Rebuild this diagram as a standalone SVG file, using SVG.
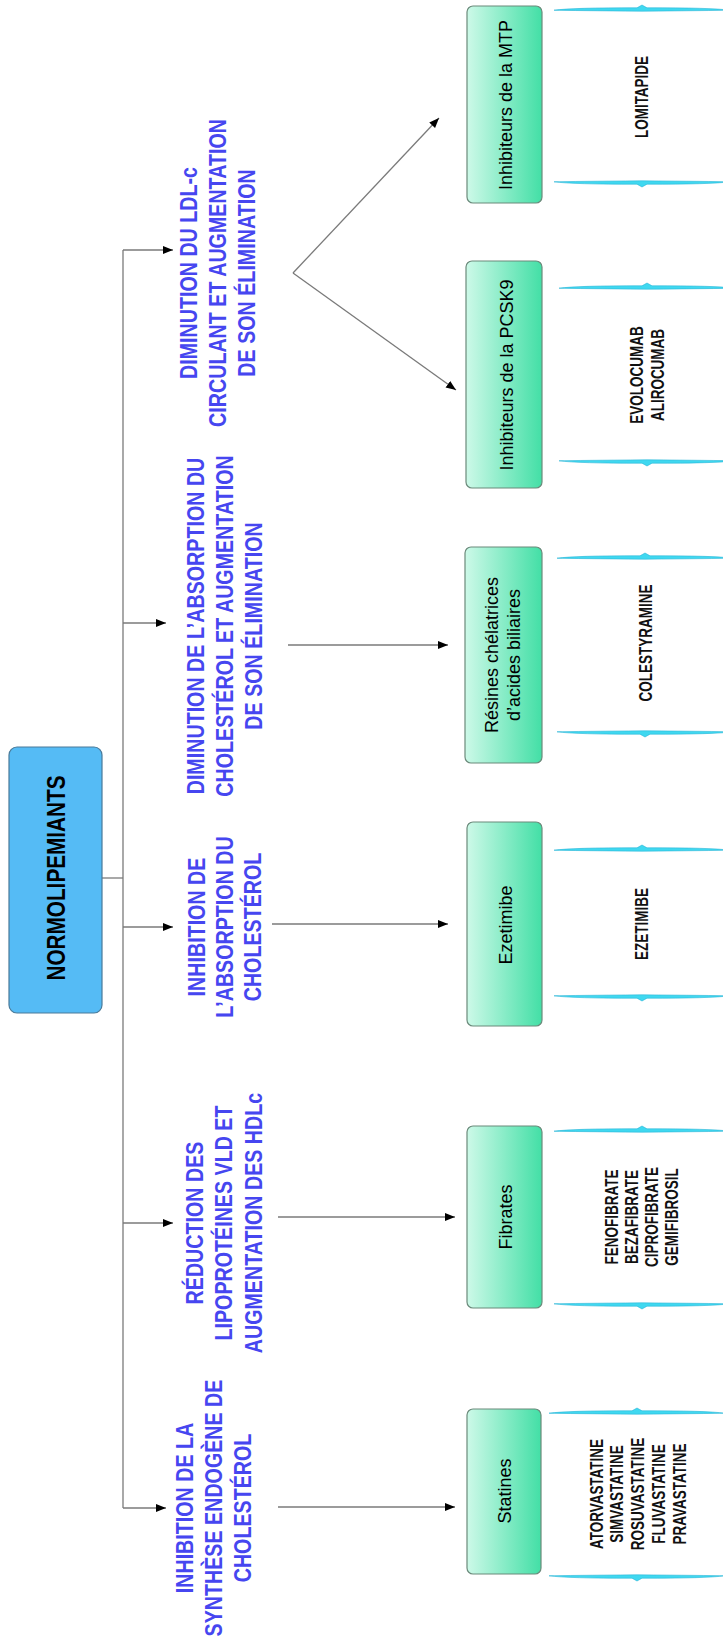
<svg xmlns="http://www.w3.org/2000/svg" width="723" height="1640" viewBox="0 0 723 1640">
<defs>
<linearGradient id="g" x1="0" y1="0" x2="1" y2="0">
<stop offset="0" stop-color="#cdf9e8"/>
<stop offset="1" stop-color="#43dfa6"/>
</linearGradient>
<marker id="ah" viewBox="0 0 10 10" refX="10" refY="5" markerWidth="10" markerHeight="10" markerUnits="userSpaceOnUse" orient="auto">
<path d="M0,1 L10,5 L0,9 Z" fill="#000"/>
</marker>
<path id="btop" d="M0,1.2 Q20,-1.4 83,-1.2 L88,-4 L93,-1.2 Q156,-1.4 176,1.2 Q156,1.6 88,2.2 Q20,1.6 0,1.2 Z"/>
<path id="bbot" d="M0,-1.2 Q20,1.4 83,1.2 L88,4 L93,1.2 Q156,1.4 176,-1.2 Q156,-1.6 88,-2.2 Q20,-1.6 0,-1.2 Z"/>
<style>
.c{fill:none;stroke:#7a7a7a;stroke-width:1.3}
.ca{fill:none;stroke:#7a7a7a;stroke-width:1.3;marker-end:url(#ah)}
.box{fill:url(#g);stroke:#6b8a7b;stroke-width:1.2}
.root{fill:#55bbf5;stroke:#4a7a99;stroke-width:1.2}
.bl{font-family:"Liberation Sans",Arial,sans-serif;font-weight:bold;font-size:24px;fill:#4646f0;text-anchor:middle}
.rt{font-family:"Liberation Sans",Arial,sans-serif;font-weight:bold;font-size:25px;fill:#000;text-anchor:middle}
.lb{font-family:"Liberation Sans",Arial,sans-serif;font-size:18px;fill:#000;text-anchor:middle}
.dr{font-family:"Liberation Sans",Arial,sans-serif;font-weight:bold;font-size:18px;fill:#111;text-anchor:middle}
.br{fill:#3fd8f0;stroke:#2ab6d6;stroke-width:0.6}
</style>
</defs>
<rect width="723" height="1640" fill="#fff"/>

<g id="connectors">
<path class="c" d="M102,878 H123"/>
<path class="c" d="M123,250 V1508"/>
<path class="ca" d="M123,250 H173"/>
<path class="ca" d="M123,623 H166"/>
<path class="ca" d="M123,927 H173"/>
<path class="ca" d="M123,1223 H173"/>
<path class="ca" d="M123,1508 H166"/>
<path class="ca" d="M278,1507 H455"/>
<path class="ca" d="M278,1217 H455"/>
<path class="ca" d="M272,924 H448"/>
<path class="ca" d="M288,645 H448"/>
<path class="ca" d="M293,273 L439,118"/>
<path class="ca" d="M293,273 L456,390"/>
</g>

<g id="root">
<rect class="root" x="9" y="747" width="93" height="266" rx="8"/>
<text class="rt" transform="translate(0,878) rotate(-90) scale(0.83,1)" x="0" y="65">NORMOLIPEMIANTS</text>
</g>

<g id="cat-ldl">
<g transform="translate(0,273) rotate(-90) scale(0.82,1)">
<text class="bl" x="0" y="197">DIMINUTION DU LDL-c</text>
<text class="bl" x="0" y="226">CIRCULANT ET AUGMENTATION</text>
<text class="bl" x="0" y="255">DE SON ÉLIMINATION</text>
</g>
</g>
<g id="cat-dimabs">
<g transform="translate(0,626) rotate(-90) scale(0.82,1)">
<text class="bl" x="0" y="204">DIMINUTION DE L’ABSORPTION DU</text>
<text class="bl" x="0" y="233">CHOLESTÉROL ET AUGMENTATION</text>
<text class="bl" x="0" y="262">DE SON ÉLIMINATION</text>
</g>
</g>
<g id="cat-inhabs">
<g transform="translate(0,927) rotate(-90) scale(0.82,1)">
<text class="bl" x="0" y="205">INHIBITION DE</text>
<text class="bl" x="0" y="233">L’ABSORPTION DU</text>
<text class="bl" x="0" y="261">CHOLESTÉROL</text>
</g>
</g>
<g id="cat-red">
<g transform="translate(0,1223) rotate(-90) scale(0.82,1)">
<text class="bl" x="0" y="203">RÉDUCTION DES</text>
<text class="bl" x="0" y="232">LIPOPROTÉINES VLD ET</text>
<text class="bl" x="0" y="262">AUGMENTATION DES HDLc</text>
</g>
</g>
<g id="cat-synth">
<g transform="translate(0,1508) rotate(-90) scale(0.82,1)">
<text class="bl" x="0" y="193">INHIBITION DE LA</text>
<text class="bl" x="0" y="222">SYNTHÈSE ENDOGÈNE DE</text>
<text class="bl" x="0" y="251">CHOLESTÉROL</text>
</g>
</g>

<g id="box-mtp">
<rect class="box" x="467" y="6" width="75" height="197" rx="6"/>
<text class="lb" transform="translate(0,105) rotate(-90)" x="0" y="512">Inhibiteurs de la MTP</text>
</g>
<g id="box-pcsk9">
<rect class="box" x="466" y="261" width="76" height="227" rx="6"/>
<text class="lb" transform="translate(0,375) rotate(-90)" x="0" y="513">Inhibiteurs de la PCSK9</text>
</g>
<g id="box-resines">
<rect class="box" x="465" y="547" width="77" height="216" rx="6"/>
<g transform="translate(0,655) rotate(-90)">
<text class="lb" x="0" y="498">Résines chélatrices</text>
<text class="lb" x="0" y="520">d’acides biliaires</text>
</g>
</g>
<g id="box-ezetimibe">
<rect class="box" x="467" y="822" width="75" height="204" rx="6"/>
<text class="lb" transform="translate(0,925) rotate(-90)" x="0" y="512">Ezetimibe</text>
</g>
<g id="box-fibrates">
<rect class="box" x="467" y="1126" width="75" height="182" rx="6"/>
<text class="lb" transform="translate(0,1217) rotate(-90)" x="0" y="512">Fibrates</text>
</g>
<g id="box-statines">
<rect class="box" x="467" y="1409" width="74" height="165" rx="6"/>
<text class="lb" transform="translate(0,1491) rotate(-90)" x="0" y="511">Statines</text>
</g>

<g id="list-mtp">
<use class="br" href="#btop" x="554" y="9"/>
<use class="br" href="#bbot" x="554" y="183"/>
<text class="dr" transform="translate(0,97) rotate(-90) scale(0.75,1)" x="0" y="648">LOMITAPIDE</text>
</g>
<g id="list-pcsk9">
<use class="br" href="#btop" x="559" y="287"/>
<use class="br" href="#bbot" x="559" y="462"/>
<g transform="translate(0,375) rotate(-90) scale(0.75,1)">
<text class="dr" x="0" y="643">EVOLOCUMAB</text>
<text class="dr" x="0" y="664">ALIROCUMAB</text>
</g>
</g>
<g id="list-resines">
<use class="br" href="#btop" x="557" y="557"/>
<use class="br" href="#bbot" x="557" y="733"/>
<text class="dr" transform="translate(0,643) rotate(-90) scale(0.75,1)" x="0" y="652">COLESTYRAMINE</text>
</g>
<g id="list-ezetimibe">
<use class="br" href="#btop" x="554" y="849"/>
<use class="br" href="#bbot" x="554" y="997"/>
<text class="dr" transform="translate(0,924) rotate(-90) scale(0.75,1)" x="0" y="648">EZETIMIBE</text>
</g>
<g id="list-fibrates">
<use class="br" href="#btop" x="554" y="1130"/>
<use class="br" href="#bbot" x="554" y="1305"/>
<g transform="translate(0,1217) rotate(-90) scale(0.75,1)">
<text class="dr" x="0" y="618">FENOFIBRATE</text>
<text class="dr" x="0" y="638">BEZAFIBRATE</text>
<text class="dr" x="0" y="658">CIPROFIBRATE</text>
<text class="dr" x="0" y="678">GEMIFIBROSIL</text>
</g>
</g>
<g id="list-statines">
<use class="br" href="#btop" x="549" y="1412"/>
<use class="br" href="#bbot" x="549" y="1577"/>
<g transform="translate(0,1494) rotate(-90) scale(0.75,1)">
<text class="dr" x="0" y="603">ATORVASTATINE</text>
<text class="dr" x="0" y="623">SIMVASTATINE</text>
<text class="dr" x="0" y="644">ROSUVASTATINE</text>
<text class="dr" x="0" y="665">FLUVASTATINE</text>
<text class="dr" x="0" y="686">PRAVASTATINE</text>
</g>
</g>
</svg>
